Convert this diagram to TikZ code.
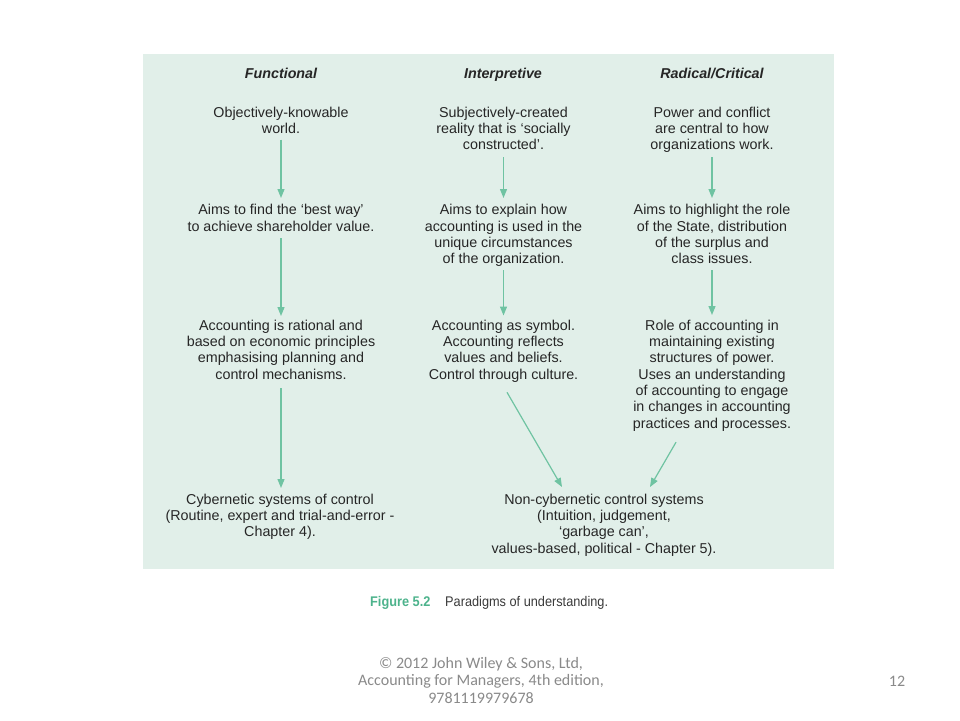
\documentclass[tikz,border=0pt]{standalone}
\usepackage{fontspec}
\setmainfont{Liberation Sans}
\newfontfamily\capfont[FakeStretch=0.91]{Liberation Sans}
\newfontfamily\footfont{Carlito}
\usetikzlibrary{arrows.meta,calc}
\definecolor{panelbg}{HTML}{E1EFE9}
\definecolor{arrowgreen}{HTML}{6FC3A2}
\definecolor{textgray}{HTML}{262626}
\definecolor{capgreen}{HTML}{4DB38C}
\definecolor{capgray}{HTML}{3A3A3A}
\definecolor{footgray}{HTML}{8A8A8A}
\newcommand\myT{\rule{0pt}{11pt}}
\newcommand\myB{\rule[-4pt]{0pt}{4pt}}
\tikzset{
  txt/.style={align=center, inner sep=0pt, anchor=north, text=textgray,
    font=\fontsize{14.3}{16.3}\selectfont},
  hdr/.style={inner sep=0pt, anchor=base, text=textgray,
    font=\fontsize{14.3}{16.3}\selectfont\bfseries\itshape},
  arr/.style={draw=arrowgreen, line width=1.2pt,
    -{Triangle[length=9pt,width=7pt]}},
  foot/.style={inner sep=0pt, anchor=base, text=footgray,
    font=\footfont\fontsize{16}{17.5}\selectfont, align=center}
}
\begin{document}
\begin{tikzpicture}[x=1pt,y=-1pt]
\useasboundingbox (0,0) rectangle (960,720);
\fill[white] (0,0) rectangle (960,720);
\fill[panelbg] (143,54) rectangle (834,569);

% headers
\node[hdr] (hf) at (281,78) {Functional};
\node[hdr] (hi) at (503,78) {Interpretive};
\node[hdr] (hr) at (712,78) {Radical/Critical};

% row 1
\node[txt] (f1) at (281,106) {\myT Objectively-knowable\\world.\myB};
\node[txt] (i1) at (503.5,106) {\myT Subjectively-created\\reality that is ‘socially\\constructed’.\myB};
\node[txt] (r1) at (712,106) {\myT Power and conflict\\are central to how\\organizations work.\myB};

% row 2
\node[txt] (f2) at (281,203.5) {\myT Aims to find the ‘best way’\\to achieve shareholder value.\myB};
\node[txt] (i2) at (503.5,203.5) {\myT Aims to explain how\\accounting is used in the\\unique circumstances\\of the organization.\myB};
\node[txt] (r2) at (712,203.5) {\myT Aims to highlight the role\\of the State, distribution\\of the surplus and\\class issues.\myB};

% row 3
\node[txt] (f3) at (281,319) {\myT Accounting is rational and\\based on economic principles\\emphasising planning and\\control mechanisms.\myB};
\node[txt] (i3) at (503.5,319) {\myT Accounting as symbol.\\Accounting reflects\\values and beliefs.\\Control through culture.\myB};
\node[txt] (r3) at (712,319) {\myT Role of accounting in\\maintaining existing\\structures of power.\\Uses an understanding\\of accounting to engage\\in changes in accounting\\practices and processes.\myB};

% row 4
\node[txt] (f4) at (280,493) {\myT Cybernetic systems of control\\(Routine, expert and trial-and-error -\\Chapter 4).\myB};
\node[txt] (n4) at (604,493) {\myT Non-cybernetic control systems\\(Intuition, judgement,\\‘garbage can’,\\values-based, political - Chapter 5).\myB};

% arrows
\draw[arr, shorten <=2pt, shorten >=5.5pt] (f1.south) -- (f2.north);
\draw[arr, shorten <=3pt, shorten >=3pt] (f2.south) -- (f3.north);
\draw[arr, shorten <=5pt, shorten >=5pt] (f3.south) -- (f3.south |- f4.north);
\draw[arr, shorten <=3.4pt, shorten >=5.5pt] (i1.south) -- (i2.north);
\draw[arr, shorten <=2.6pt, shorten >=3.5pt] (i2.south) -- (i3.north);
\draw[arr, shorten <=3.4pt, shorten >=5.5pt] (r1.south) -- (r2.north);
\draw[arr, shorten <=2.6pt, shorten >=4pt] (r2.south) -- (r3.north);
\draw[arr] ($(i3.south)+(3.5,9)$) -- ($(n4.north)+(-42,-6)$);
\draw[arr] ($(r3.south)+(-36,10)$) -- ($(n4.north)+(46,-6)$);

% caption
\node[inner sep=0pt, anchor=base west, text=capgreen,
  font=\capfont\fontsize{14}{16}\selectfont\bfseries] (cap1) at (370,606) {Figure 5.2};
\node[inner sep=0pt, anchor=base west, text=capgray,
  font=\capfont\fontsize{14}{16}\selectfont] (cap2) at (445,606) {Paradigms of understanding.};

% footer
\node[foot] (ft) at (481,703) {© 2012 John Wiley \& Sons, Ltd,\\Accounting for Managers, 4th edition,\\9781119979678};
\node[foot] (pg) at (897,686) {12};
\end{tikzpicture}
\end{document}
